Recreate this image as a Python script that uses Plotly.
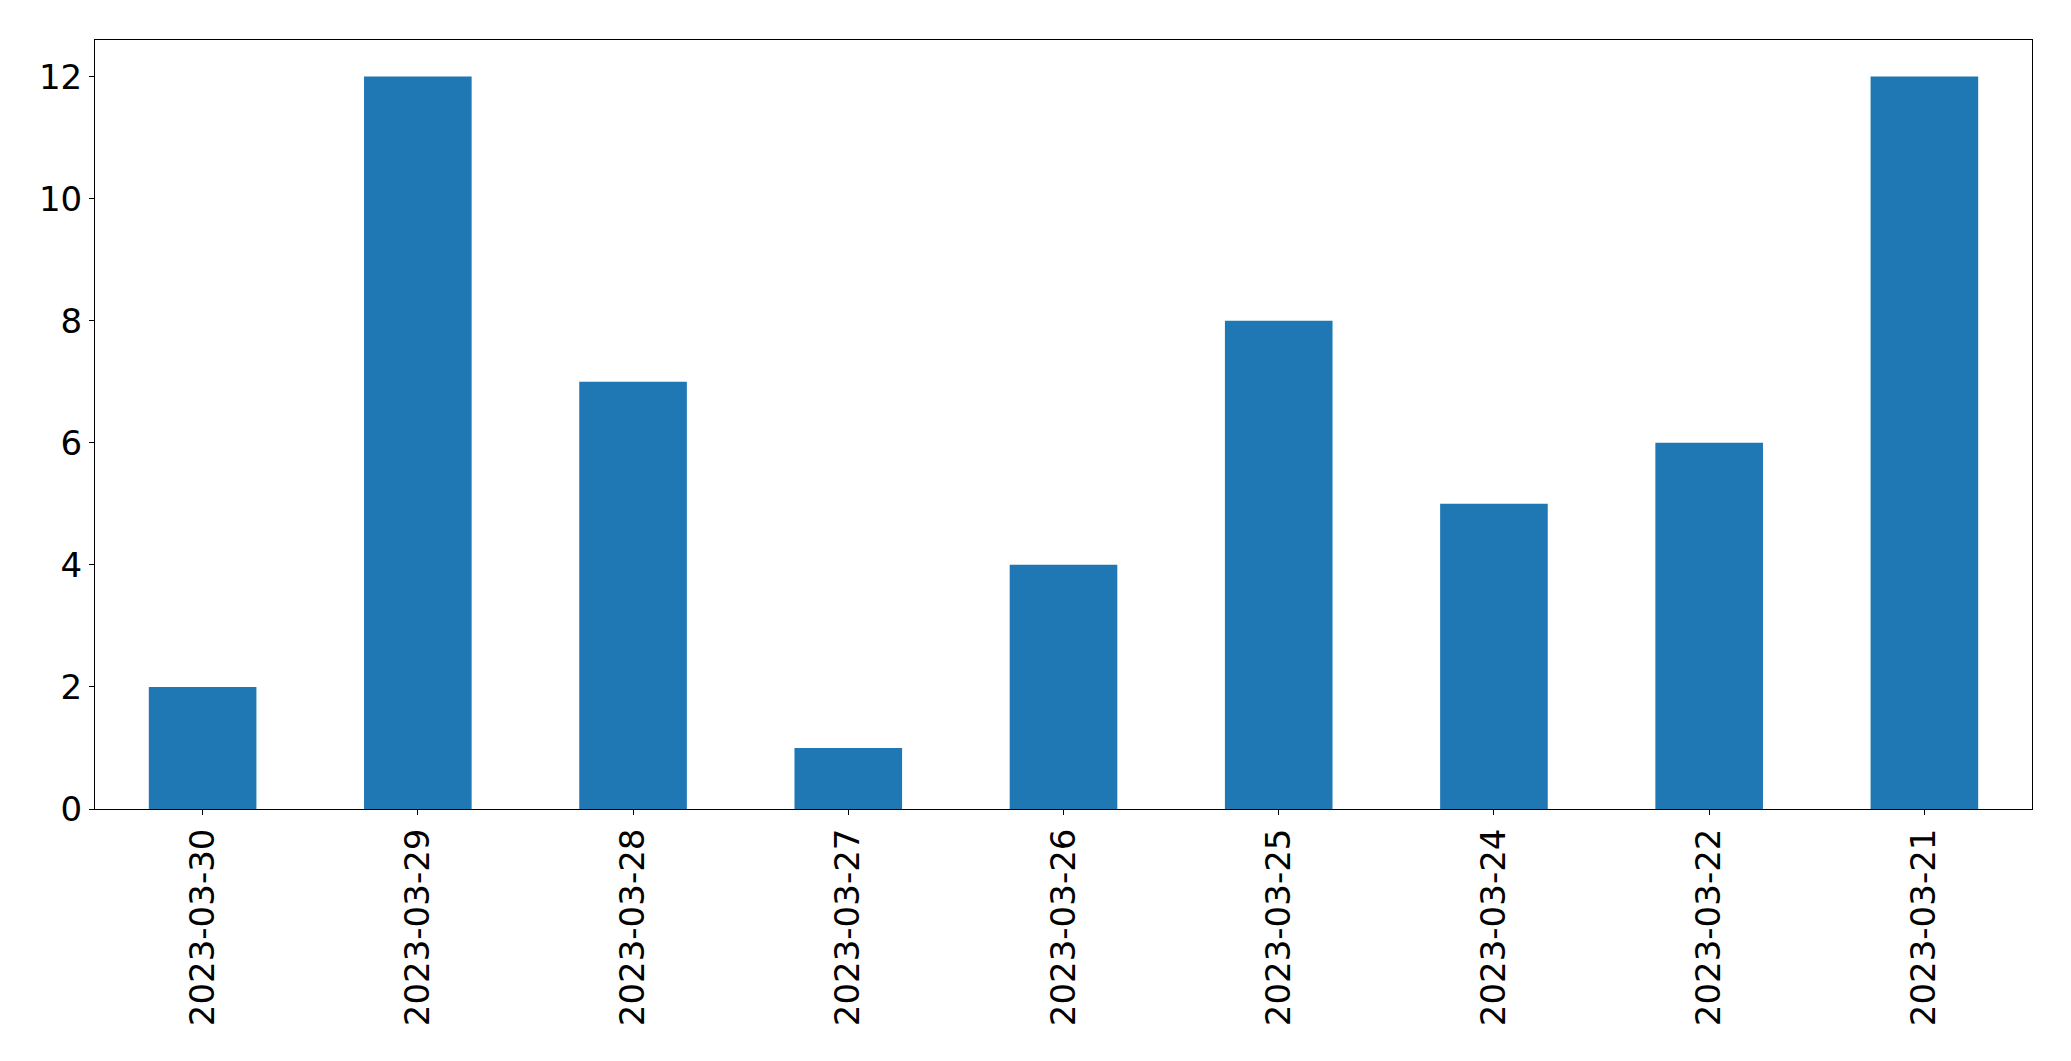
import plotly.graph_objects as go

dates = ["2023-03-30", "2023-03-29", "2023-03-28", "2023-03-27", "2023-03-26",
         "2023-03-25", "2023-03-24", "2023-03-22", "2023-03-21"]
counts = [2, 12, 7, 1, 4, 8, 5, 6, 12]
y_ticks = [0, 2, 4, 6, 8, 10, 12]

FS = 34

fig = go.Figure(go.Bar(x=dates, y=counts, width=0.5, marker=dict(color="#1f77b4", line=dict(width=0))))

# page body has an 8px default margin; compensate
fig.update_layout(
    width=2063, height=1053,
    margin=dict(l=86.5, r=39, t=31.5, b=252),
    paper_bgcolor="white", plot_bgcolor="white",
    font=dict(family="DejaVu Sans", size=FS, color="black"),
    showlegend=False,
)
fig.update_xaxes(
    type="category", range=[-0.5, len(dates) - 0.5],
    showline=True, linecolor="black", linewidth=1, mirror=True,
    ticks="outside", ticklen=5, tickwidth=1, tickcolor="black",
    tickangle=-90, showgrid=False, zeroline=False,
    tickfont=dict(family="DejaVu Sans", size=FS, color="black"),
)
fig.update_yaxes(
    range=[0, 12.6], tickvals=y_ticks, ticktext=[str(v) for v in y_ticks],
    showline=True, linecolor="black", linewidth=1, mirror=True,
    ticks="outside", ticklen=5, tickwidth=1, tickcolor="black",
    showgrid=False, zeroline=False,
    tickfont=dict(family="DejaVu Sans", size=FS, color="black"),
)

fig.write_html("out.html")
